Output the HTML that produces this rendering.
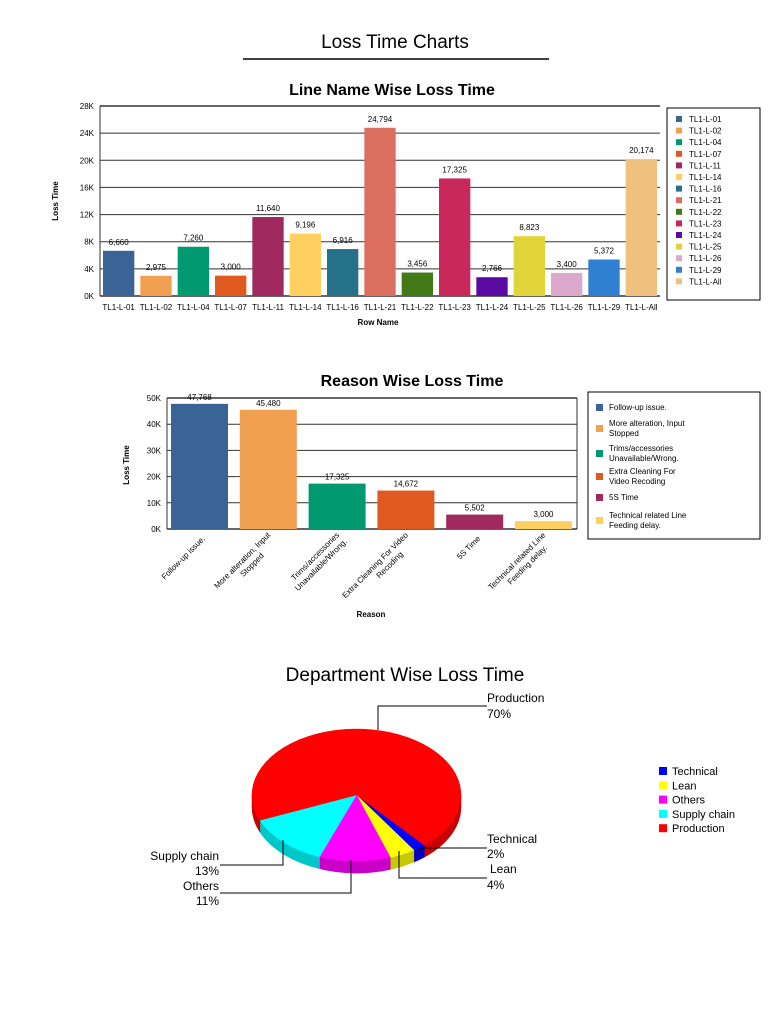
<!DOCTYPE html>
<html><head><meta charset="utf-8"><style>
body{margin:0;background:#fff;width:768px;height:1024px;overflow:hidden}
svg{display:block;font-family:"Liberation Sans",Arial,sans-serif}
</style></head><body>
<svg id="s" width="768" height="1024" xmlns="http://www.w3.org/2000/svg">
<text x="395" y="48" font-size="19" text-anchor="middle">Loss Time Charts</text>
<line x1="243" y1="59" x2="549" y2="59" stroke="#000" stroke-width="1.5"/>
<text x="392" y="95" font-size="16" font-weight="bold" text-anchor="middle">Line Name Wise Loss Time</text>
<text x="412" y="386" font-size="16" font-weight="bold" text-anchor="middle">Reason Wise Loss Time</text>
<text x="405" y="681" font-size="19" text-anchor="middle">Department Wise Loss Time</text>
<g id="c1"></g><g id="c2"></g><g id="c3"></g>
</svg>
<script>
var NS="http://www.w3.org/2000/svg";
function el(p,t,a,txt){var e=document.createElementNS(NS,t);for(var k in a)e.setAttribute(k,a[k]);if(txt!=null)e.textContent=txt;p.appendChild(e);return e;}
// chart1
var g=document.getElementById('c1');
var L=100,R=660,T=106,B=296;
for(var i=0;i<=7;i++){var y=B-(B-T)*i/7;el(g,'line',{x1:L,y1:y,x2:R,y2:y,stroke:'#333','stroke-width':i==0||i==7?1.5:1});el(g,'text',{x:L-6,y:y+3,'font-size':8,'text-anchor':'end'},(i*4)+'K');}
el(g,'line',{x1:L,y1:T,x2:L,y2:B,stroke:'#333'});
var d1=[["01",6660,"#3b6496","6,660"],["02",2975,"#f0a050","2,975"],["04",7260,"#009970","7,260"],["07",3000,"#e05a20","3,000"],["11",11640,"#a0295e","11,640"],["14",9196,"#ffd060","9,196"],["16",6916,"#25718a","6,916"],["21",24794,"#dc6e60","24,794"],["22",3456,"#437a18","3,456"],["23",17325,"#c8285a","17,325"],["24",2766,"#5a0aa0","2,766"],["25",8823,"#e0d43a","8,823"],["26",3400,"#dca8cc","3,400"],["29",5372,"#2f80d0","5,372"],["All",20174,"#f0c080","20,174"]];
var sw=(R-L)/15;
d1.forEach(function(d,i){var x=L+i*sw+3,w=sw-6,h=d[1]/28000*(B-T);el(g,'rect',{x:x,y:B-h,width:w,height:h,fill:d[2]});
el(g,'text',{x:x+w/2,y:B-h-6,'font-size':8,'text-anchor':'middle'},d[3]);
el(g,'text',{x:x+w/2,y:310,'font-size':8,'text-anchor':'middle'},'TL1-L-'+d[0]);
el(g,'rect',{x:676,y:116+i*11.6,width:6,height:6,fill:d[2]});
el(g,'text',{x:689,y:122+i*11.6,'font-size':8},'TL1-L-'+d[0]);});
el(g,'text',{x:378,y:325,'font-size':8,'font-weight':'bold','text-anchor':'middle'},'Row Name');
el(g,'text',{x:0,y:0,'font-size':8,'font-weight':'bold','text-anchor':'middle',transform:'translate(58,201) rotate(-90)'},'Loss Time');
el(g,'rect',{x:667,y:108,width:93,height:192,fill:'none',stroke:'#000'});
// chart2
g=document.getElementById('c2');
L=167;R=577;T=398;B=529;
for(var i=0;i<=5;i++){var y=B-(B-T)*i/5;el(g,'line',{x1:L,y1:y,x2:R,y2:y,stroke:'#333','stroke-width':i==0||i==5?1.5:1});el(g,'text',{x:L-6,y:y+3,'font-size':8,'text-anchor':'end'},(i*10)+'K');}
el(g,'line',{x1:L,y1:T,x2:L,y2:B,stroke:'#333'});el(g,'line',{x1:R,y1:T,x2:R,y2:B,stroke:'#333'});
var d2=[[47768,"#3b6496","47,768",["Follow-up issue."]],[45480,"#f0a050","45,480",["More alteration, Input","Stopped"]],[17325,"#009970","17,325",["Trims/accessories","Unavailable/Wrong."]],[14672,"#e05a20","14,672",["Extra Cleaning For Video","Recoding"]],[5502,"#a0295e","5,502",["5S Time"]],[3000,"#ffd060","3,000",["Technical related Line","Feeding delay."]]];
var lg=[["Follow-up issue."],["More alteration, Input","Stopped"],["Trims/accessories","Unavailable/Wrong."],["Extra Cleaning For","Video Recoding"],["5S Time"],["Technical related Line","Feeding delay."]];
var ly=[407,428,453,476,497,520];
d2.forEach(function(d,i){var x=171+i*68.8,w=57,h=d[0]/50000*(B-T);el(g,'rect',{x:x,y:B-h,width:w,height:h,fill:d[1]});
el(g,'text',{x:x+w/2,y:B-h-4,'font-size':8,'text-anchor':'middle'},d[2]);
var cx=x+w/2+4,cy=537;var t=el(g,'text',{'font-size':8,'text-anchor':'end',transform:'translate('+cx+','+cy+') rotate(-45)'});
if(d[3].length==1){el(t,'tspan',{x:0,y:3},d[3][0]);}else{el(t,'tspan',{x:0,y:-2},d[3][0]);el(t,'tspan',{x:-4,y:8,'text-anchor':'middle','dx':-30},d[3][1]);}
var l=lg[i];var yy=ly[i];el(g,'rect',{x:596,y:yy-3,width:7,height:7,fill:d[1]});
if(l.length==1)el(g,'text',{x:609,y:yy+3,'font-size':8},l[0]);else{el(g,'text',{x:609,y:yy-2,'font-size':8},l[0]);el(g,'text',{x:609,y:yy+8,'font-size':8},l[1]);}
});
el(g,'text',{x:371,y:617,'font-size':8,'font-weight':'bold','text-anchor':'middle'},'Reason');
el(g,'text',{x:0,y:0,'font-size':8,'font-weight':'bold','text-anchor':'middle',transform:'translate(129,465) rotate(-90)'},'Loss Time');
el(g,'rect',{x:588,y:392,width:172,height:147,fill:'none',stroke:'#000'});
// pie
g=document.getElementById('c3');
var cx=356.5,cy=795,rx=104.5,ry=66,D=12;
function P(a,dy){var r=a*Math.PI/180;return [cx+rx*Math.cos(r),cy+ry*Math.sin(r)+(dy||0)];}
var sl=[[49.5,56.7,"#0000ff","#0000c0"],[56.7,71.1,"#ffff00","#c8c800"],[71.1,110.7,"#ff00ff","#c800c8"],[110.7,157.5,"#00ffff","#00c8c8"],[157.5,409.5,"#ff0000","#c80000"]];
function side(a1,a2,c){var p1=P(a1),p2=P(a2),q1=P(a1,D),q2=P(a2,D);
el(g,'path',{d:'M'+p1+' A'+rx+','+ry+' 0 0 1 '+p2+' L'+q2+' A'+rx+','+ry+' 0 0 0 '+q1+'Z',fill:c,stroke:c,'stroke-width':0.5});}
side(0,49.5,"#c80000");side(49.5,56.7,"#0000c0");side(56.7,71.1,"#c8c800");side(71.1,110.7,"#c800c8");side(110.7,157.5,"#00c8c8");side(157.5,180,"#c80000");
sl.forEach(function(s){var p1=P(s[0]),p2=P(s[1]);var lf=(s[1]-s[0])>180?1:0;
el(g,'path',{d:'M'+cx+','+cy+' L'+p1+' A'+rx+','+ry+' 0 '+lf+' 1 '+p2+'Z',fill:s[2],stroke:s[2],'stroke-width':0.5});});
function pl(pts){el(g,'polyline',{points:pts,fill:'none',stroke:'#000','stroke-width':1});}
pl('378,730 378,706 487,706');pl('418,848 487,848');pl('399,851 399,878 487,878');pl('283,840 283,865 220,865');pl('351,860 351,893 220,893');
function tx(x,y,s,a){el(g,'text',{x:x,y:y,'font-size':12,'text-anchor':a||'start'},s);}
tx(487,702,'Production');tx(487,718,'70%');tx(487,843,'Technical');tx(487,858,'2%');tx(490,873,'Lean');tx(487,889,'4%');
tx(219,860,'Supply chain','end');tx(219,875,'13%','end');tx(219,890,'Others','end');tx(219,905,'11%','end');
[["Technical","#0000ff"],["Lean","#ffff00"],["Others","#ff00ff"],["Supply chain","#00ffff"],["Production","#ff0000"]].forEach(function(d,i){var y=771+i*14.3;el(g,'rect',{x:659,y:y-4,width:8,height:8,fill:d[1]});el(g,'text',{x:672,y:y+4,'font-size':11},d[0]);});
</script>
</body></html>
